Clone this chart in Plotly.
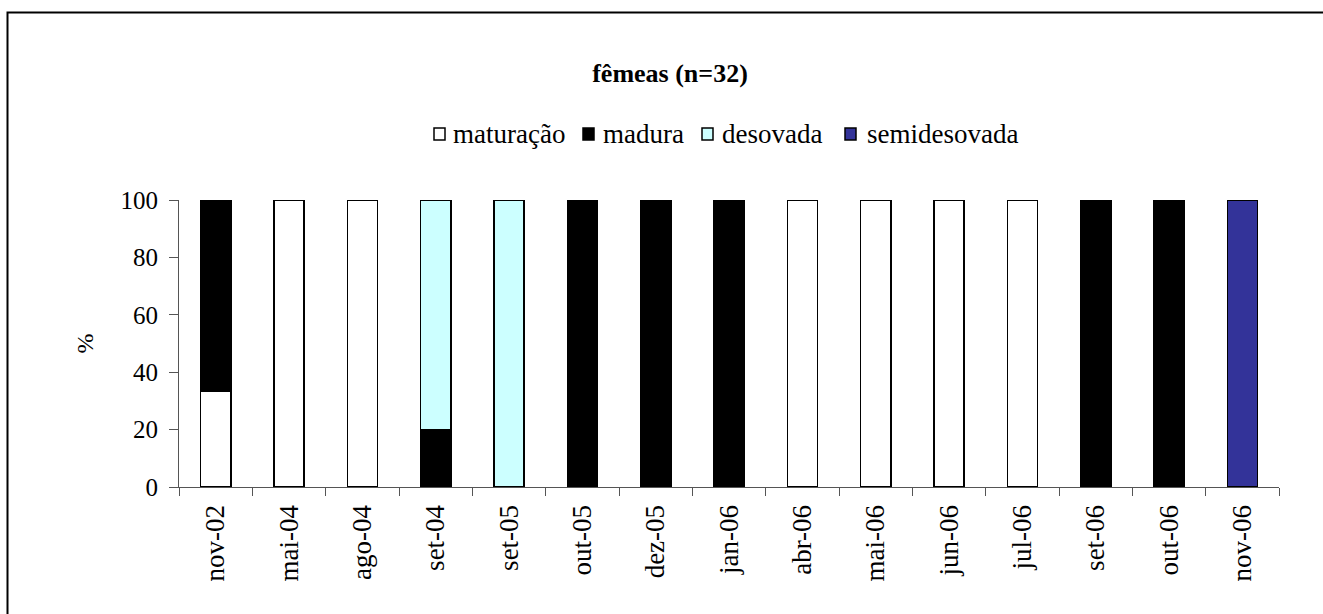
import plotly.graph_objects as go

# Sampling months and the share (%) of females in each gonadal stage
months = ["nov-02", "mai-04", "ago-04", "set-04", "set-05", "out-05", "dez-05",
          "jan-06", "abr-06", "mai-06", "jun-06", "jul-06", "set-06", "out-06", "nov-06"]
maturacao = [33.3, 100, 100, None, None, None, None, None, 100, 100, 100, 100, None, None, None]
madura = [66.7, None, None, 20, None, 100, 100, 100, None, None, None, None, 100, 100, None]
desovada = [None, None, None, 80, 100, None, None, None, None, None, None, None, None, None, None]
semidesovada = [None] * 14 + [100]

stage_names = ["maturação", "madura", "desovada", "semidesovada"]
stage_values = [maturacao, madura, desovada, semidesovada]
stage_colors = ["#FFFFFF", "#000000", "#CCFFFF", "#333399"]

FONT = "Liberation Serif"
W, H = 1323, 614
L, R, T, B = 179, 44, 200, 127

fig = go.Figure()
for name, vals, col in zip(stage_names, stage_values, stage_colors):
    fig.add_trace(go.Bar(
        x=months, y=vals, name=name, width=0.41,
        marker=dict(color=col, line=dict(color="#000000", width=1.6)),
    ))

# pixel -> paper helpers for the decorations outside the plot area
pw, ph = W - L - R, H - T - B
def px(x):
    return (x - L) / pw
def py(y):
    return (H - B - y) / ph

shapes = [
    # outer chart frame
    dict(type="rect", xref="paper", yref="paper",
         x0=px(7.5), x1=px(1340), y0=py(12.5), y1=py(640),
         line=dict(color="#000000", width=2), fillcolor="rgba(0,0,0,0)", layer="below"),
]
annotations = []

# legend row drawn as swatches + labels
legend_items = [(434, 451), (583, 601), (702, 720), (845, 865)]
for (sx, tx), name, col in zip(legend_items, stage_names, stage_colors):
    shapes.append(dict(type="rect", xref="paper", yref="paper",
                       x0=px(sx), x1=px(sx + 11), y0=py(140), y1=py(128),
                       line=dict(color="#000000", width=1.5), fillcolor=col))
    annotations.append(dict(text=name, xref="paper", yref="paper",
                            x=px(tx), y=py(134), xanchor="left", yanchor="middle",
                            showarrow=False,
                            font=dict(family="Times New Roman, Liberation Serif, serif",
                                      size=27, color="#000000")))

fig.update_layout(
    width=W, height=H,
    margin=dict(l=L, r=R, t=T, b=B, pad=0),
    barmode="stack",
    showlegend=False,
    plot_bgcolor="#FFFFFF", paper_bgcolor="#FFFFFF",
    font=dict(family=FONT, color="#000000"),
    title=dict(text="<b>fêmeas (n=32)</b>", x=px(670), xanchor="center",
               y=1 - 73 / H, yanchor="middle", xref="paper", yref="container",
               font=dict(family=FONT, size=26, color="#000000")),
    shapes=shapes, annotations=annotations,
)
fig.update_xaxes(
    type="category", range=[-0.5, 14.5], tickangle=-90,
    showline=True, linecolor="#555555", linewidth=1.2,
    ticks="outside", tickson="boundaries", ticklen=8, tickcolor="#555555", tickwidth=1.2,
    ticklabelstandoff=6,
    showgrid=False, zeroline=False,
    tickfont=dict(family=FONT, size=27, color="#000000"),
)
fig.update_yaxes(
    range=[0, 100], tickvals=[0, 20, 40, 60, 80, 100],
    showline=True, linecolor="#555555", linewidth=1.2,
    ticks="outside", ticklen=9, tickcolor="#555555", tickwidth=1.2,
    ticklabelstandoff=6,
    showgrid=False, zeroline=False,
    tickfont=dict(family=FONT, size=25, color="#000000"),
    title=dict(text="%", font=dict(family=FONT, size=24, color="#000000"), standoff=20),
)

fig.write_html("out.html")
